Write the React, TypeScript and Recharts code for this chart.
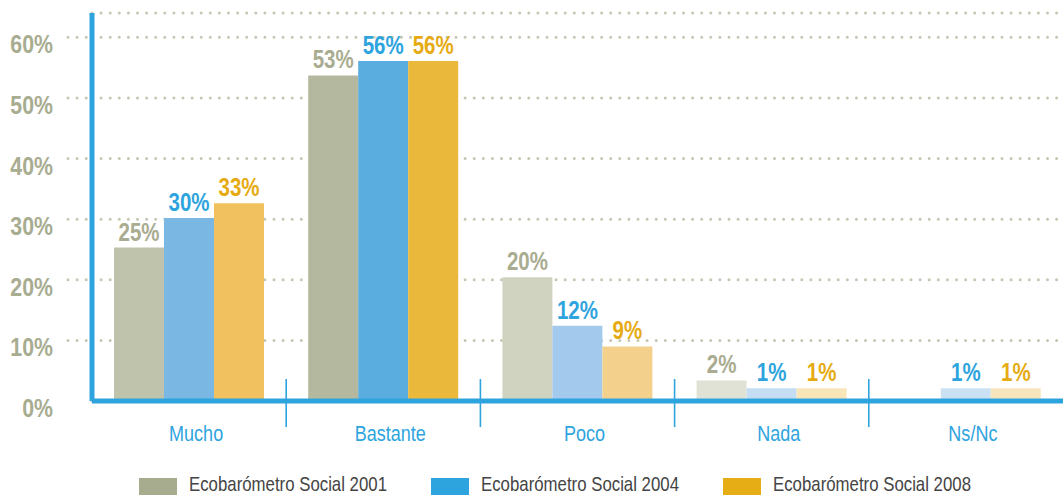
import React from 'react';
import { BarChart, Bar, XAxis, YAxis, CartesianGrid, Legend, LabelList, Cell } from 'recharts';

const categories = ['Mucho', 'Bastante', 'Poco', 'Nada', 'Ns/Nc'];
const values2001: (number | null)[] = [25.3, 53.7, 20.4, 3.4, null];
const values2004: (number | null)[] = [30.2, 56.1, 12.4, 2.1, 2.1];
const values2008: (number | null)[] = [32.6, 56.1, 9.0, 2.1, 2.1];
const labels2001 = ['25%', '53%', '20%', '2%', ''];
const labels2004 = ['30%', '56%', '12%', '1%', '1%'];
const labels2008 = ['33%', '56%', '9%', '1%', '1%'];
const seriesNames = ['Ecobarómetro Social 2001', 'Ecobarómetro Social 2004', 'Ecobarómetro Social 2008'];
const legendColors = ['#a8ac8e', '#2ea4de', '#e6ae14'];
const labelColors = ['#a9ac90', '#2ea4de', '#e6ab12'];
const cells2001 = ['#c0c3ac', '#b4b89e', '#d1d3c1', '#e0e2d6', '#e0e2d6'];
const cells2004 = ['#7ab7e3', '#5aaddf', '#a3c9ec', '#c5ddf2', '#cae0f3'];
const cells2008 = ['#f0c15e', '#eab83a', '#f3d18d', '#f8e5b8', '#f7e6bc'];
const yTicks = [0, 10, 20, 30, 40, 50, 60];

const FONT = "'Liberation Sans', Arial, sans-serif";
const SX = 0.82;
const AXIS = '#2ea4de';

const data = categories.map((c, i) => ({
  cat: c,
  s2001: values2001[i],
  s2004: values2004[i],
  s2008: values2008[i],
  l2001: labels2001[i],
  l2004: labels2004[i],
  l2008: labels2008[i],
}));

const NarrowText = ({ x, y, anchor, children, ...rest }: any) => (
  <text transform={`translate(${x},${y}) scale(${SX},1)`} x={0} y={0} textAnchor={anchor}
    fontFamily={FONT} {...rest}>{children}</text>
);

const YTick = (props: any) => {
  const { y, payload } = props;
  return (
    <g>
      {payload.value !== 0 && (
        <line x1={68} x2={92} y1={y} y2={y} stroke="#c5c7b3" strokeWidth={3}
          strokeDasharray="0 9.1" strokeLinecap="round" />
      )}
      <NarrowText x={53} y={y + 16} anchor="end" fill="#a8ac90" fontWeight="bold" fontSize={26}>
        {payload.value}%
      </NarrowText>
    </g>
  );
};

const XTick = (props: any) => {
  const { x, payload, index } = props;
  const half = payload && payload.offset ? payload.offset : 97;
  return (
    <g>
      {index < categories.length - 1 && (
        <line x1={x + half} x2={x + half} y1={379} y2={427} stroke={AXIS} strokeWidth={1.6} />
      )}
      <NarrowText x={x + 7} y={441} anchor="middle" fill={AXIS} fontSize={22}>
        {payload.value}
      </NarrowText>
    </g>
  );
};

const makeLabel = (key: 'l2001' | 'l2004' | 'l2008', color: string) => (props: any) => {
  const { x, y, width, index } = props;
  const txt = data[index] ? data[index][key] : '';
  if (!txt) return null;
  return (
    <NarrowText x={x + width / 2} y={y - 7} anchor="middle" fill={color} fontWeight="bold" fontSize={25}>
      {txt}
    </NarrowText>
  );
};

const LegendContent = () => (
  <svg width={1063} height={54} style={{ display: 'block', overflow: 'visible' }}>
    {seriesNames.map((n, i) => (
      <g key={n}>
        <rect x={139 + i * 292} y={37} width={38} height={17} fill={legendColors[i]} />
        <NarrowText x={189 + i * 292} y={49.5} anchor="start" fill="#444" fontSize={20.5}>{n}</NarrowText>
      </g>
    ))}
  </svg>
);

export default function App() {
  return (
    <div style={{ position: 'absolute', left: 0, top: 0, width: 1063, height: 495, background: '#fff' }}>
      <BarChart width={1063} height={495} data={data} barSize={50} barGap={0}
        margin={{ top: 13, right: 0, left: 0, bottom: 0 }}>
        <CartesianGrid vertical={false} stroke="#c5c7b3" strokeWidth={3}
          strokeDasharray="0 9.1" strokeLinecap="round" />
        <YAxis width={92} domain={[0, 64]} ticks={yTicks} allowDataOverflow
          axisLine={{ stroke: AXIS, strokeWidth: 5 }} tickLine={false} tick={<YTick />} />
        <XAxis dataKey="cat" height={40} axisLine={{ stroke: AXIS, strokeWidth: 5 }}
          tickLine={false} tick={<XTick />} interval={0} />
        <Legend verticalAlign="bottom" content={<LegendContent />} wrapperStyle={{ left: 0, bottom: 0, width: 1063, height: 54 }} />
        <Bar dataKey="s2001" name={seriesNames[0]} fill={legendColors[0]} isAnimationActive={false}>
          {data.map((d, i) => <Cell key={i} fill={cells2001[i]} />)}
          <LabelList dataKey="l2001" content={makeLabel('l2001', labelColors[0])} />
        </Bar>
        <Bar dataKey="s2004" name={seriesNames[1]} fill={legendColors[1]} isAnimationActive={false}>
          {data.map((d, i) => <Cell key={i} fill={cells2004[i]} />)}
          <LabelList dataKey="l2004" content={makeLabel('l2004', labelColors[1])} />
        </Bar>
        <Bar dataKey="s2008" name={seriesNames[2]} fill={legendColors[2]} isAnimationActive={false}>
          {data.map((d, i) => <Cell key={i} fill={cells2008[i]} />)}
          <LabelList dataKey="l2008" content={makeLabel('l2008', labelColors[2])} />
        </Bar>
      </BarChart>
    </div>
  );
}
